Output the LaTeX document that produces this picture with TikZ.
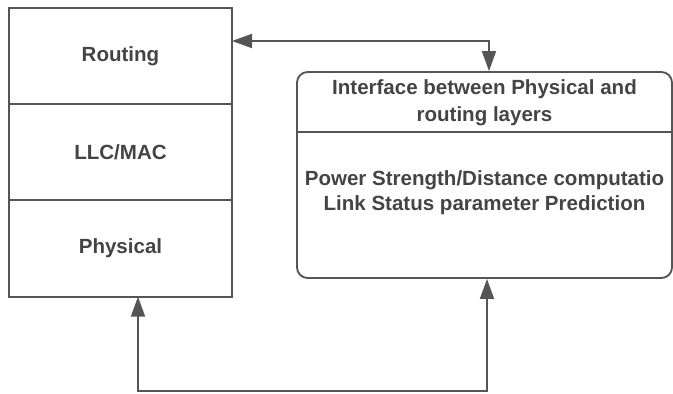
\documentclass[tikz,border=0pt]{standalone}
\usepackage{fontspec}
\setmainfont{Liberation Sans}
\usepackage{xcolor}
\usetikzlibrary{arrows.meta, positioning, calc}
\definecolor{inkline}{HTML}{555555}
\definecolor{inktext}{HTML}{444444}

\begin{document}
\begin{tikzpicture}[
    x=0.75pt, y=-0.75pt,
    node distance=0pt,
    layer/.style={rectangle, draw=inkline, line width=1.4pt, outer sep=0pt,
                minimum width=167.25pt, minimum height=72.2pt,
                font=\fontsize{15.4}{20}\selectfont\bfseries, text=inktext},
    panel/.style={rectangle, draw=inkline, line width=1.4pt, rounded corners=8pt,
                minimum width=281.25pt, minimum height=154.5pt, inner sep=0pt},
    caption/.style={align=center, text=inktext, inner sep=0pt},
    arr/.style={{Triangle[length=15pt,width=10.5pt]}-{Triangle[length=15pt,width=10.5pt]},
                draw=inkline, line width=1.4pt}
]
\useasboundingbox (0,0) rectangle (673,393);
% protocol stack
\node[layer] (routing) at (120.5,56) {Routing};
\node[layer, below=of routing] (llcmac)   {LLC/MAC};
\node[layer, below=of llcmac]  (physical) {Physical};
% interface block
\node[panel] (iface) at (484.5,175) {};
\node[caption, font=\fontsize{15.4}{20.25}\selectfont\bfseries] (ihead) at (484.5,103)
    {Interface between Physical and\\routing layers};
\draw[inkline, line width=1.4pt] (iface.west |- 0,132) -- (iface.east |- 0,132);
\node[caption, font=\fontsize{15.4}{18.75}\selectfont\bfseries] (ibody) at (484.5,193)
    {Power Strength/Distance computatio\\Link Status parameter Prediction};
% connectors
\coordinate (tj) at (489,41);
\coordinate (bl) at (138,391);
\coordinate (br) at (487,391);
\draw[arr] (routing.east |- tj) -- (tj) -- (tj |- iface.north);
\draw[arr] (bl |- physical.south) -- (bl) -- (br) -- (br |- iface.south);
\end{tikzpicture}
\end{document}
